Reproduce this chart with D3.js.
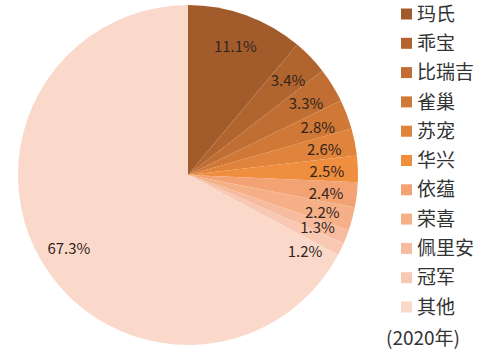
<!DOCTYPE html>
<html>
<head>
<meta charset="utf-8">
<script src="https://cdn.jsdelivr.net/npm/d3@7"></script>
<style>
  body { margin: 0; background: #fff; }
  text { font-family: "Noto Sans CJK SC", "Noto Sans", sans-serif; }
</style>
</head>
<body>
<div id="chart"></div>
<script>
const width = 500;
const height = 353;

// brands and 2020 share (%)
const brands = ["玛氏", "乖宝", "比瑞吉", "雀巢", "苏宠", "华兴", "依蕴", "荣喜", "佩里安", "冠军", "其他"];
const shares = [11.1, 3.4, 3.3, 2.8, 2.6, 2.5, 2.4, 2.2, 1.3, 1.2, 67.3];
const colors = ["#a25c2c", "#b0652f", "#c06e33", "#d07836", "#e0833c", "#ef8e3e",
                "#f2a273", "#f5b088", "#f7bca0", "#f8c8b2", "#fad9cb"];
const yearNote = "(2020年)";

const data = brands.map((b, i) => ({ brand: b, value: shares[i] }));

const cx = 188, cy = 175, radius = 170;
const labelR = 139;

const svg = d3.select("#chart")
  .append("svg")
  .attr("width", width)
  .attr("height", height);

const color = d3.scaleOrdinal().domain(brands).range(colors);

const pie = d3.pie()
  .value(d => d.value)
  .sort(null);

const arc = d3.arc().innerRadius(0).outerRadius(radius);

const g = svg.append("g").attr("transform", `translate(${cx},${cy})`);

const arcs = pie(data);

g.selectAll("path.slice")
  .data(arcs)
  .join("path")
  .attr("class", "slice")
  .attr("d", arc)
  .attr("fill", d => color(d.data.brand));

// label positions: centroid on labelR, small ones nudged along the arc if crowded
let prevY = null;
arcs.forEach(d => {
  let a = (d.startAngle + d.endAngle) / 2;
  let y = -labelR * Math.cos(a);
  if (prevY !== null && y > prevY && y - prevY < 12) {
    while (y - prevY < 24 && a < d.endAngle + 0.3) {
      a += 0.005;
      y = -labelR * Math.cos(a);
    }
  }
  d.lx = labelR * Math.sin(a);
  d.ly = y;
  prevY = y;
});

g.selectAll("text.pct")
  .data(arcs)
  .join("text")
  .attr("class", "pct")
  .attr("x", d => d.lx)
  .attr("y", d => d.ly + 2)
  .attr("text-anchor", "middle")
  .attr("dy", "0.35em")
  .style("font-size", "15px")
  .attr("fill", "#33241c")
  .text(d => d3.format(".1f")(d.data.value) + "%");

// legend
const legendY = d3.scalePoint().domain(brands).range([14, 307]);

const legend = svg.append("g");

const items = legend.selectAll("g.item")
  .data(brands)
  .join("g")
  .attr("class", "item")
  .attr("transform", d => `translate(401,${legendY(d)})`);

items.append("rect")
  .attr("x", 0)
  .attr("y", -5.5)
  .attr("width", 11)
  .attr("height", 11)
  .attr("fill", d => color(d));

items.append("text")
  .attr("x", 16)
  .attr("dy", "0.35em")
  .style("font-size", "19px")
  .attr("fill", "#333")
  .text(d => d);

legend.append("text")
  .attr("x", 386)
  .attr("y", 338)
  .attr("dy", "0.35em")
  .style("font-size", "19px")
  .attr("fill", "#333")
  .text(yearNote);
</script>
</body>
</html>
